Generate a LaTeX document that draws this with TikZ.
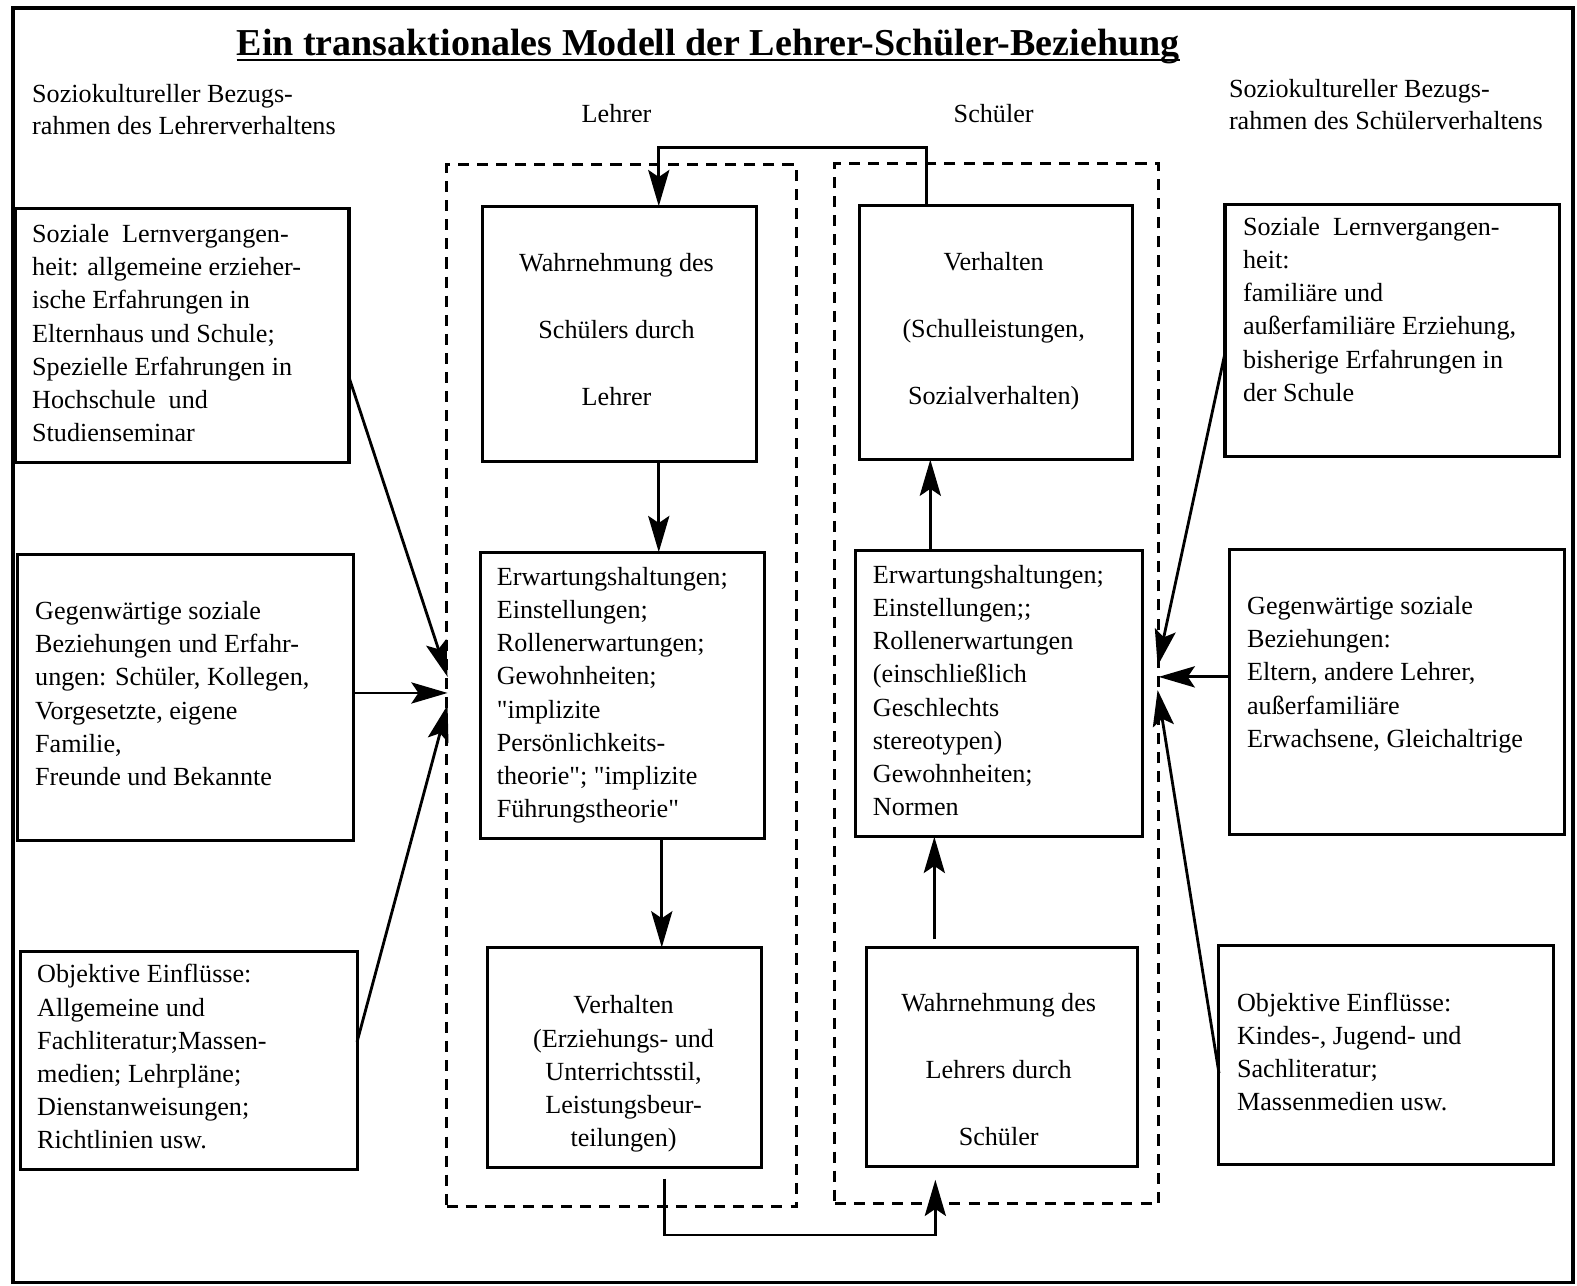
\documentclass[tikz,border=0pt]{standalone}
\usepackage{fontspec}
\setmainfont{Liberation Serif}
\usetikzlibrary{arrows.meta}
\begin{document}
\begin{tikzpicture}[x=1pt,y=-1pt,
  box/.style={draw, line width=3pt, inner sep=0pt, outer sep=0pt},
  groupframe/.style={draw, dash pattern=on 11pt off 8pt, line width=3pt, inner sep=0pt, outer sep=0pt},
  txt/.style={inner sep=0pt, outer sep=0pt, font=\fontsize{26}{33}\selectfont, align=left},
  wide/.style={inner sep=0pt, outer sep=0pt, font=\fontsize{26}{66.5}\selectfont, align=center},
  conn/.style={line width=2.8pt},
  arr/.style={conn, -{Stealth[length=36pt,width=21pt,inset=7pt]}}]
\useasboundingbox (0,0) rectangle (1568,1278);
% outer frame
\node[draw, line width=3.5pt, inner sep=0pt, minimum width=1551pt, minimum height=1267pt] (outer) at (788.5,641.5) {};
% title
\node[inner sep=0pt, anchor=base, font=\fontsize{37.8}{44}\selectfont\bfseries] (title) at (704,55) {Ein transaktionales Modell der Lehrer-Schüler-Beziehung};
\draw[line width=2pt] ([yshift=-5pt]title.base west) -- ([yshift=-5pt]title.base east);
% headers
\node[txt, anchor=north west, font=\fontsize{26}{32}\selectfont] (hl) at (32,84) {Soziokultureller Bezugs-\\rahmen des Lehrerverhaltens};
\node[txt, anchor=north west, font=\fontsize{26}{32}\selectfont] (hr) at (1222,79) {Soziokultureller Bezugs-\\rahmen des Schülerverhaltens};
\node[txt, anchor=north] (hlehrer) at (613,104) {Lehrer};
\node[txt, anchor=north] (hschueler) at (988,104) {Schüler};
% dashed group frames
\node[groupframe, minimum width=348pt, minimum height=1036pt] (LF) at (618,682) {};
\node[groupframe, minimum width=322pt, minimum height=1034pt] (SF) at (991,680) {};
% boxes
\node[box, minimum width=332pt, minimum height=253pt] (L1) at (181,333.5) {};
\node[box, minimum width=334pt, minimum height=285pt] (L2) at (184,693.5) {};
\node[box, minimum width=335pt, minimum height=217pt] (L3) at (187.5,1054.5) {};
\node[box, minimum width=272pt, minimum height=254pt] (C1) at (616,332) {};
\node[box, minimum width=282pt, minimum height=285pt] (C2) at (619,691.5) {};
\node[box, minimum width=272pt, minimum height=219pt] (C3) at (621,1051.5) {};
\node[box, minimum width=271pt, minimum height=253pt] (D1) at (990.5,330.5) {};
\node[box, minimum width=285pt, minimum height=285pt] (D2) at (993.5,689.5) {};
\node[box, minimum width=269pt, minimum height=218pt] (D3) at (996.5,1051) {};
\node[box, minimum width=333pt, minimum height=251pt] (R1) at (1384.5,328.5) {};
\node[box, minimum width=334pt, minimum height=284pt] (R2) at (1389,688) {};
\node[box, minimum width=333pt, minimum height=218pt] (R3) at (1378.5,1049) {};
% texts
\node[txt, anchor=north west] (L1t) at (32,223) {Soziale\ \ Lernvergangen-\\heit: allgemeine erzieher-\\ische Erfahrungen in\\Elternhaus und Schule;\\Spezielle Erfahrungen in\\Hochschule\ \ und\\Studienseminar};
\node[txt, anchor=north west] (L2t) at (35,598) {Gegenwärtige soziale\\Beziehungen und Erfahr-\\ungen: Schüler, Kollegen,\\Vorgesetzte, eigene\\Familie,\\Freunde und Bekannte};
\node[txt, anchor=north west] (L3t) at (37,959) {Objektive Einflüsse:\\Allgemeine und\\Fachliteratur;Massen-\\medien; Lehrpläne;\\Dienstanweisungen;\\Richtlinien usw.};
\node[wide, anchor=north] (C1t) at (613,252) {Wahrnehmung des\\Schülers durch\\Lehrer};
\node[txt, anchor=north west] (C2t) at (494,564) {Erwartungshaltungen;\\Einstellungen;\\Rollenerwartungen;\\Gewohnheiten;\\\textquotedbl implizite\\Persönlichkeits-\\theorie\textquotedbl; \textquotedbl implizite\\Führungstheorie\textquotedbl};
\node[txt, anchor=north, align=center] (C3t) at (620,990) {Verhalten\\(Erziehungs- und\\Unterrichtsstil,\\Leistungsbeur-\\teilungen)};
\node[wide, anchor=north] (D1t) at (988,251) {Verhalten\\(Schulleistungen,\\Sozialverhalten)};
\node[txt, anchor=north west] (D2t) at (868,562) {Erwartungshaltungen;\\Einstellungen;;\\Rollenerwartungen\\(einschließlich\\Geschlechts\\stereotypen)\\Gewohnheiten;\\Normen};
\node[wide, anchor=north] (D3t) at (993,988) {Wahrnehmung des\\Lehrers durch\\Schüler};
\node[txt, anchor=north west] (R1t) at (1236,216) {Soziale\ \ Lernvergangen-\\heit:\\familiäre und\\außerfamiliäre Erziehung,\\bisherige Erfahrungen in\\der Schule};
\node[txt, anchor=north west] (R2t) at (1240,593) {Gegenwärtige soziale\\Beziehungen:\\Eltern, andere Lehrer,\\außerfamiliäre\\Erwachsene, Gleichaltrige};
\node[txt, anchor=north west] (R3t) at (1230,987) {Objektive Einflüsse:\\Kindes-, Jugend- und\\Sachliteratur;\\Massenmedien usw.};
% central connectors
\coordinate (tr) at (921,147);
\coordinate (tl) at (655,147);
\draw[arr] (D1.north -| tr) -- (tr) -- (tl) -- (C1.north -| tl);
\coordinate (xa) at (655,0);
\draw[arr] (C1.south -| xa) -- (C2.north -| xa);
\coordinate (xb) at (658,0);
\draw[arr] (C2.south -| xb) -- (C3.north -| xb);
\coordinate (bl) at (661,1228);
\coordinate (br) at (930,1228);
\draw[arr, shorten <=11pt, shorten >=13pt] (C3.south -| bl) -- (bl) -- (br) -- (D3.south -| br);
\coordinate (xc) at (929,0);
\draw[arr, shorten <=8pt] (D3.north -| xc) -- (D2.south -| xc);
\coordinate (xd) at (925,0);
\draw[arr] (D2.north -| xd) -- (D1.south -| xd);
% left influences
\coordinate (pl1) at (445,673);
\coordinate (pl2) at (445,689);
\coordinate (pl3) at (445,701);
\draw[arr] ([yshift=-41.5pt]L1.east) -- (pl1);
\draw[arr] (L2.east |- pl2) -- (pl2);
\draw[arr] ([yshift=18.5pt]L3.east) -- (pl3);
% right influences
\coordinate (pr1) at (1151,662);
\coordinate (pr2) at (1152,673);
\coordinate (pr3) at (1151,686);
\draw[arr] ([yshift=-22.5pt]R1.west) -- (pr1);
\draw[arr] (R2.west |- pr2) -- (pr2);
\draw[arr] ([yshift=-18pt]R3.west) -- (pr3);
\end{tikzpicture}
\end{document}
